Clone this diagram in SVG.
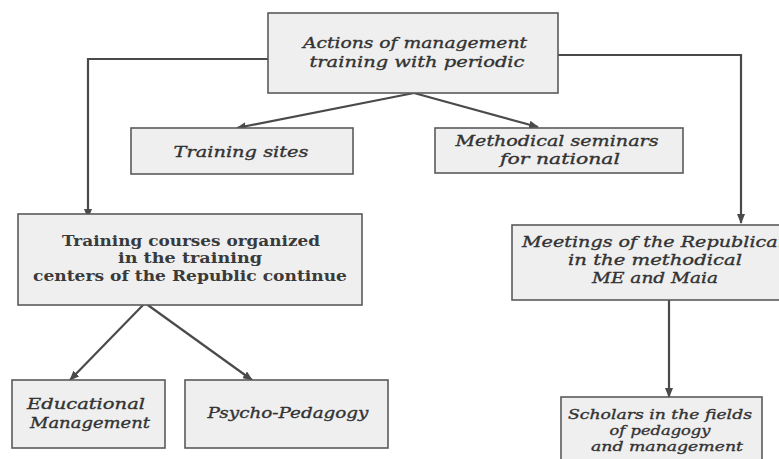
<svg xmlns="http://www.w3.org/2000/svg" width="779" height="459" viewBox="0 0 779 459">
<style>
.box{fill:#efefef;stroke:#5a5a5a;stroke-width:1.6}
.it{font-family:"DejaVu Serif","Liberation Serif",serif;font-style:italic;font-size:15px;fill:#333333;stroke:#333333;stroke-width:0.35;text-anchor:middle}
.bd{font-family:"DejaVu Serif","Liberation Serif",serif;font-weight:bold;font-size:14px;fill:#3a3a3a;text-anchor:middle}
.sm{font-size:13px}
.ln{fill:none;stroke:#4a4a4a;stroke-width:2.2}
</style>
<defs>
<marker id="ah" markerWidth="10" markerHeight="8" refX="9" refY="4" orient="auto" markerUnits="userSpaceOnUse">
<path d="M0,0 L10,4 L0,8 Z" fill="#4a4a4a"/>
</marker>
</defs>
<rect width="779" height="459" fill="#ffffff"/>
<g id="connectors">
<polyline class="ln" points="268,59 88,59 88,218" marker-end="url(#ah)"/>
<polyline class="ln" points="558,55 741,55 741,223" marker-end="url(#ah)"/>
<line class="ln" x1="414" y1="93" x2="237" y2="128" marker-end="url(#ah)"/>
<line class="ln" x1="414" y1="93" x2="538" y2="127" marker-end="url(#ah)"/>
<line class="ln" x1="145" y1="303" x2="70" y2="380" marker-end="url(#ah)"/>
<line class="ln" x1="145" y1="303" x2="252" y2="380" marker-end="url(#ah)"/>
<line class="ln" x1="669" y1="300" x2="669" y2="397" marker-end="url(#ah)"/>
</g>
<g id="actions">
<rect class="box" x="268" y="13" width="290" height="80"/>
<text class="it" x="415" y="48" textLength="224" lengthAdjust="spacingAndGlyphs">Actions of management</text>
<text class="it" x="417" y="67" textLength="215" lengthAdjust="spacingAndGlyphs">training with periodic</text>
</g>
<g id="training-sites">
<rect class="box" x="131" y="128" width="222" height="46"/>
<text class="it" x="241" y="157" textLength="135" lengthAdjust="spacingAndGlyphs">Training sites</text>
</g>
<g id="methodical">
<rect class="box" x="435" y="128" width="248" height="45"/>
<text class="it" x="557" y="146" textLength="203" lengthAdjust="spacingAndGlyphs">Methodical seminars</text>
<text class="it" x="560" y="164" textLength="120" lengthAdjust="spacingAndGlyphs">for national</text>
</g>
<g id="training-courses">
<rect class="box" x="18" y="214" width="344" height="91"/>
<text class="bd" x="191" y="246" textLength="258" lengthAdjust="spacingAndGlyphs">Training courses organized</text>
<text class="bd" x="190" y="263" textLength="144" lengthAdjust="spacingAndGlyphs">in the training</text>
<text class="bd" x="190" y="281" textLength="314" lengthAdjust="spacingAndGlyphs">centers of the Republic continue</text>
</g>
<g id="meetings">
<rect class="box" x="512" y="225" width="290" height="75"/>
<text class="it" x="656" y="247" textLength="268" lengthAdjust="spacingAndGlyphs">Meetings of the Republican</text>
<text class="it" x="655" y="265" textLength="174" lengthAdjust="spacingAndGlyphs">in the methodical</text>
<text class="it" x="655" y="283" textLength="126" lengthAdjust="spacingAndGlyphs">ME and Maia</text>
</g>
<g id="educational">
<rect class="box" x="12" y="380" width="153" height="68"/>
<text class="it" x="86" y="409" textLength="118" lengthAdjust="spacingAndGlyphs">Educational</text>
<text class="it" x="90" y="428" textLength="120" lengthAdjust="spacingAndGlyphs">Management</text>
</g>
<g id="psycho">
<rect class="box" x="185" y="380" width="203" height="68"/>
<text class="it" x="288" y="418" textLength="161" lengthAdjust="spacingAndGlyphs">Psycho-Pedagogy</text>
</g>
<g id="scholars">
<rect class="box" x="561" y="397" width="201" height="70"/>
<text class="it sm" x="660" y="419" textLength="184" lengthAdjust="spacingAndGlyphs">Scholars in the fields</text>
<text class="it sm" x="660" y="435" textLength="101" lengthAdjust="spacingAndGlyphs">of pedagogy</text>
<text class="it sm" x="667" y="451" textLength="152" lengthAdjust="spacingAndGlyphs">and management</text>
</g>
</svg>
